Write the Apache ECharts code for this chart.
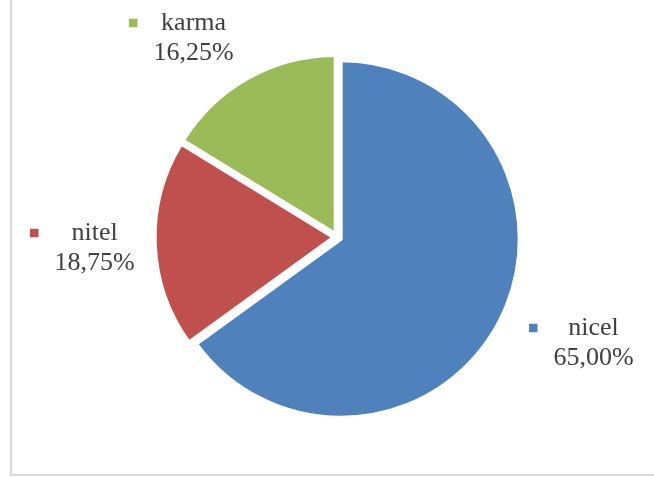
<!DOCTYPE html>
<html>
<head>
<meta charset="utf-8">
<script src="https://cdn.jsdelivr.net/npm/echarts@6/dist/echarts.min.js"></script>
<style>
html,body{margin:0;padding:0;background:#fff;}
#c{width:654px;height:477px;}
</style>
</head>
<body>
<div id="c"></div>
<script>
var categories = ['nicel', 'nitel', 'karma'];
var values = [65.00, 18.75, 16.25];
var colors = ['#4F81BD', '#C0504D', '#9BBB59'];
// label block top-left positions (layout only)
var labelPos = [[529, 313], [30, 218], [129, 8]];

var CX = 337.4, CY = 237.2, R = 178.5, EXPLODE = 4, GAP = 3.5;
var FONT = '"Times New Roman", "Liberation Serif", serif';

var chart = echarts.init(document.getElementById('c'), null, {renderer: 'canvas'});

function fmtPct(v) {
  return v.toFixed(2).replace('.', ',') + '%';
}

var rich = {
  g: {width: 16, height: 8, align: 'left'},
  s: {width: 24.5, height: 8, align: 'left'},
  n: {align: 'center', fontSize: 26, lineHeight: 30, color: '#404040', fontFamily: FONT},
  v: {align: 'center', fontSize: 26, lineHeight: 30, color: '#404040', fontFamily: FONT}
};
colors.forEach(function (c, i) {
  rich['k' + i] = {width: 8.5, height: 8.5, backgroundColor: c, align: 'left'};
});

var total = values.reduce(function (a, b) { return a + b; }, 0);
var series = [];
var cum = 0;
categories.forEach(function (name, i) {
  var theta = (cum + values[i] / 2) / total * 2 * Math.PI;
  cum += values[i];
  var center = [CX + EXPLODE * Math.sin(theta), CY - EXPLODE * Math.cos(theta)];
  series.push({
    type: 'pie',
    name: name,
    center: center,
    radius: R,
    startAngle: 90,
    clockwise: true,
    silent: true,
    avoidLabelOverlap: false,
    emphasis: {disabled: true, scale: false},
    label: {
      show: true,
      position: 'outside',
      formatter: function (p) {
        return '{k' + p.dataIndex + '|}{g|}{n|' + p.name + '}\n{s|}{v|' + fmtPct(p.value) + '}';
      },
      rich: rich
    },
    labelLine: {show: false},
    labelLayout: function (p) {
      var pos = labelPos[p.dataIndex];
      return {x: pos[0], y: pos[1], align: 'left', verticalAlign: 'top'};
    },
    data: categories.map(function (n, j) {
      return {
        name: n,
        value: values[j],
        itemStyle: j === i
          ? {color: colors[j], borderColor: '#ffffff', borderWidth: GAP, borderJoin: 'miter'}
          : {color: 'rgba(0,0,0,0)', borderWidth: 0},
        label: {show: j === i}
      };
    })
  });
});

chart.setOption({
  animation: false,
  backgroundColor: '#ffffff',
  graphic: [{
    type: 'rect',
    shape: {x: 11, y: -20, width: 700, height: 495},
    style: {fill: 'none', stroke: '#D9D9D9', lineWidth: 2},
    silent: true
  }],
  series: series
});
</script>
</body>
</html>
